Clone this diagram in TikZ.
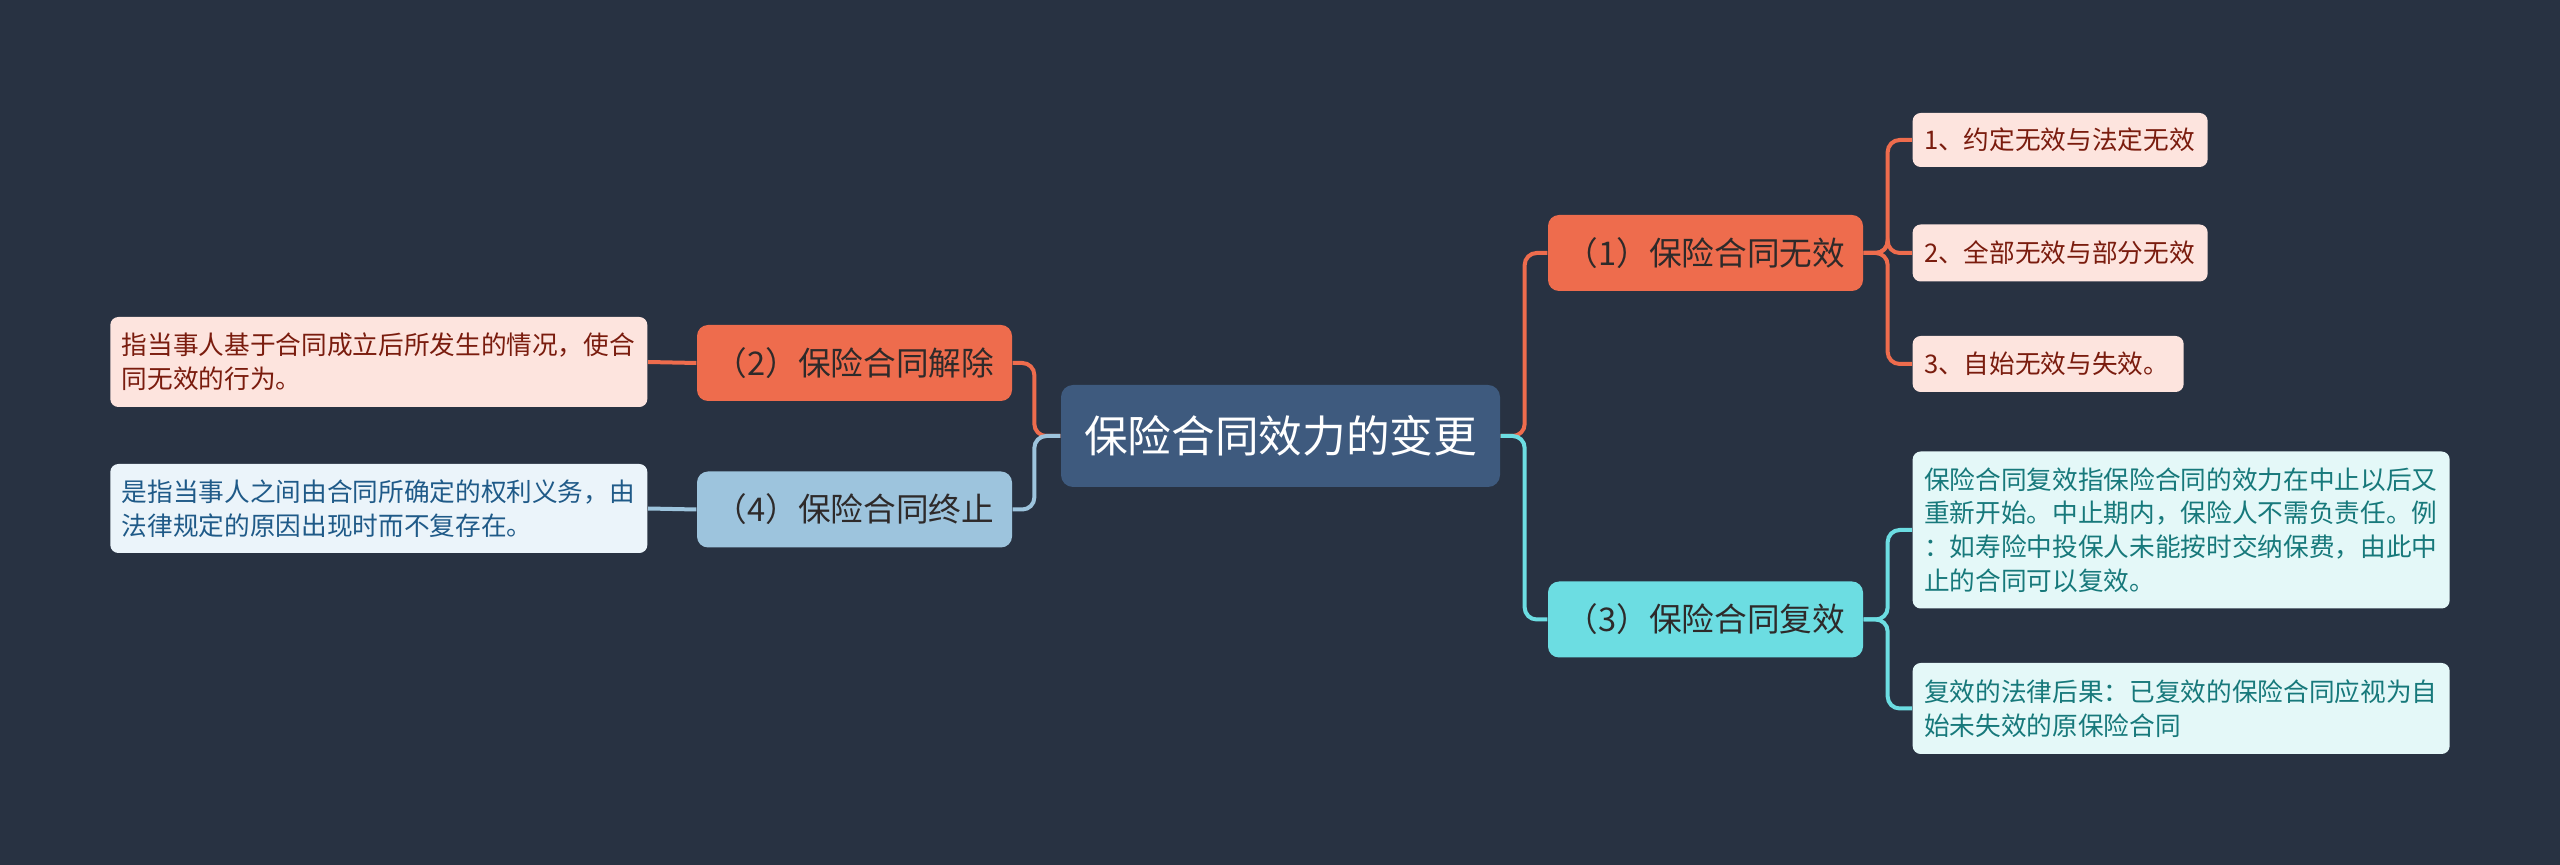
\documentclass[tikz,border=0pt]{standalone}
\usepackage{fontspec}
\setmainfont{Noto Sans CJK SC}
\definecolor{bgc}{HTML}{283242}
\definecolor{rootc}{HTML}{3E5A7E}
\definecolor{orangec}{HTML}{EE6C4D}
\definecolor{cyanc}{HTML}{6CDDE2}
\definecolor{bluec}{HTML}{9DC4DD}
\definecolor{oleaf}{HTML}{FDE4DE}
\definecolor{cleaf}{HTML}{E4F8F8}
\definecolor{bleaf}{HTML}{EBF4FA}
\definecolor{otext}{HTML}{7A1C0E}
\definecolor{ctext}{HTML}{17797B}
\definecolor{btext}{HTML}{1F5A88}
\definecolor{midtext}{HTML}{2E2A2A}
\tikzset{
  rootbox/.style={rectangle, rounded corners=3.6pt, fill=rootc, text=white,
    minimum width=131.7pt, minimum height=30.6pt, inner sep=0pt,
    font=\fontsize{13.1pt}{15pt}\selectfont},
  midbox/.style={rectangle, rounded corners=3.3pt, text=midtext,
    minimum width=94.5pt, minimum height=22.8pt, inner sep=0pt,
    font=\fontsize{9.8pt}{12pt}\selectfont},
  leafbox/.style={rectangle, rounded corners=2.4pt, inner xsep=3.4pt, inner ysep=0pt,
    align=left, font=\fontsize{7.7pt}{10.1pt}\selectfont},
  conn/.style={line width=1.2pt, rounded corners=3.6pt},
  oline/.style={conn, draw=orangec},
  cline/.style={conn, draw=cyanc},
  bline/.style={conn, draw=bluec}
}
\begin{document}
\begin{tikzpicture}[x=0.3pt,y=-0.3pt]
\fill[bgc] (0,0) rectangle (2560,865);
\useasboundingbox (0,0) rectangle (2560,865);

% main nodes
\node[rootbox] (root) at (1280.5,436) {保险合同效力的变更};
\node[midbox, fill=orangec] (n1) at (1705.5,253) {（1）保险合同无效};
\node[midbox, fill=cyanc] (n3) at (1705.5,619.5) {（3）保险合同复效};
\node[midbox, fill=orangec] (n2) at (854.5,363) {（2）保险合同解除};
\node[midbox, fill=bluec] (n4) at (854.5,509.5) {（4）保险合同终止};

% right leaves
\node[leafbox, fill=oleaf, text=otext, text width=81.7pt, minimum height=16.2pt, anchor=west] (l1) at (1912,140) {1、约定无效与法定无效};
\node[leafbox, fill=oleaf, text=otext, text width=81.7pt, minimum height=17.1pt, anchor=west] (l2) at (1912,253) {2、全部无效与部分无效};
\node[leafbox, fill=oleaf, text=otext, text width=74.5pt, minimum height=16.8pt, anchor=west] (l3) at (1912,364) {3、自始无效与失效。};
\node[leafbox, fill=cleaf, text=ctext, text width=154.3pt, minimum height=47.1pt, anchor=west] (l4) at (1912,530) {保险合同复效指保险合同的效力在中止以后又\\重新开始。中止期内，保险人不需负责任。例\\：如寿险中投保人未能按时交纳保费，由此中\\止的合同可以复效。};
\node[leafbox, fill=cleaf, text=ctext, text width=154.3pt, minimum height=27.3pt, anchor=west] (l5) at (1912,708.5) {复效的法律后果：已复效的保险合同应视为自\\始未失效的原保险合同};

% left leaves
\node[leafbox, fill=oleaf, text=otext, text width=154.3pt, minimum height=27pt, anchor=east] (ll1) at (648,362) {指当事人基于合同成立后所发生的情况，使合\\同无效的行为。};
\node[leafbox, fill=bleaf, text=btext, text width=154.3pt, minimum height=26.7pt, anchor=east] (ll2) at (648,508.5) {是指当事人之间由合同所确定的权利义务，由\\法律规定的原因出现时而不复存在。};

% connectors
\draw[oline] (root.east) -- ++(24,0) |- (n1.west);
\draw[cline] (root.east) -- ++(24,0) |- (n3.west);
\draw[oline] (root.west) -- ++(-26,0) |- (n2.east);
\draw[bline] (root.west) -- ++(-26,0) |- (n4.east);
\draw[oline] (n1.east) -- ++(24,0) |- (l1.west);
\draw[oline] (n1.east) -- ++(24,0) |- (l2.west);
\draw[oline] (n1.east) -- ++(24,0) |- (l3.west);
\draw[cline] (n3.east) -- ++(24,0) |- (l4.west);
\draw[cline] (n3.east) -- ++(24,0) |- (l5.west);
\draw[oline] (n2.west) -- (ll1.east);
\draw[bline] (n4.west) -- (ll2.east);
\end{tikzpicture}
\end{document}
